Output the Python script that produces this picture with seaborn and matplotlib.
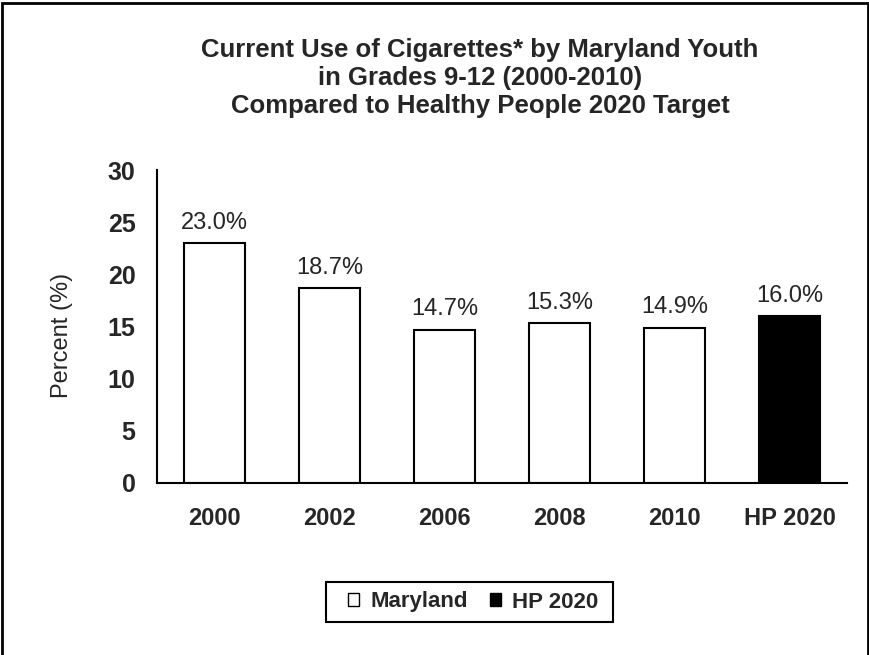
import matplotlib
matplotlib.use("Agg")
import matplotlib.pyplot as plt
import seaborn as sns
import pandas as pd
from matplotlib.patches import Rectangle, Patch

categories = ["2000", "2002", "2006", "2008", "2010", "HP 2020"]
values = [23.0, 18.7, 14.7, 15.3, 14.9, 16.0]
groups = ["Maryland", "Maryland", "Maryland", "Maryland", "Maryland", "HP 2020"]
yticks = [0, 5, 10, 15, 20, 25, 30]

sns.set_theme(style="white")
plt.rcParams['font.family'] = ['Liberation Sans', 'DejaVu Sans']

df = pd.DataFrame({"cat": categories, "val": values, "grp": groups})

fig = plt.figure(figsize=(8.7, 6.55), dpi=100)
ax = fig.add_axes([157/870, 1-483/655, (847-157)/870, (483-170)/655])

palette = {"Maryland": "white", "HP 2020": "black"}
sns.barplot(data=df, x="cat", y="val", hue="grp", palette=palette, dodge=False,
            width=0.53, edgecolor="black", linewidth=1.5, ax=ax, legend=False)

for i, v in enumerate(values):
    ax.text(i, v + 0.9, f"{v:.1f}%", ha="center", va="bottom", fontsize=17)

ax.set_ylim(0, 30)
ax.set_xlim(-0.5, 5.5)
ax.set_yticks(yticks)
ax.set_yticklabels([str(t) for t in yticks], fontsize=18, fontweight="bold")
ax.set_xticks(range(len(categories)))
ax.set_xticklabels(categories, fontsize=17, fontweight="bold")
ax.tick_params(axis="y", direction="in", length=5, width=1.5, color="black", pad=15.5)
ax.tick_params(axis="x", length=0, pad=17)
ax.set_xlabel("")
ax.set_ylabel("Percent (%)", fontsize=17)
ax.yaxis.set_label_coords((73-157)/690, 0.47)
for s in ["top", "right"]:
    ax.spines[s].set_visible(False)
for s in ["left", "bottom"]:
    ax.spines[s].set_color("black")
    ax.spines[s].set_linewidth(1.5)

title_lines = ["Current Use of Cigarettes* by Maryland Youth",
               "in Grades 9-12 (2000-2010)",
               "Compared to Healthy People 2020 Target"]
for j, line in enumerate(title_lines):
    fig.text(480/870, 1 - (50 + 28*j)/655, line, ha="center", va="center",
             fontsize=18.5, fontweight="bold")

handles = [Patch(facecolor="white", edgecolor="black", linewidth=1),
           Patch(facecolor="black", edgecolor="black", linewidth=1)]
leg = fig.legend(handles, ["Maryland", "HP 2020"], loc="center",
                 bbox_to_anchor=(473/870, 1 - 602/655), ncol=2,
                 prop={"size": 16, "weight": "bold"}, frameon=False,
                 handlelength=0.5, handleheight=0.5,
                 handletextpad=0.5, columnspacing=1.0, borderpad=0.3)

fig.patches.append(Rectangle((326/870, 1 - 622/655), (613-326)/870, 40/655,
                             transform=fig.transFigure, fill=False,
                             edgecolor="black", linewidth=1.5))

fig.patches.append(Rectangle((0.002, -0.01), 0.996, 1.006, transform=fig.transFigure,
                             fill=False, edgecolor="black", linewidth=2, clip_on=False))

fig.savefig("out.png", dpi=100)
